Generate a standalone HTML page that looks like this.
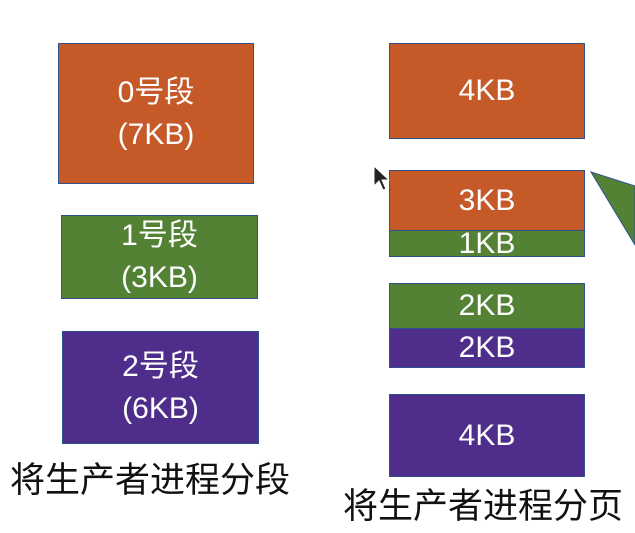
<!DOCTYPE html>
<html><head><meta charset="utf-8"><style>
body{margin:0;width:635px;height:533px;background:#fff;position:relative;overflow:hidden;font-family:"Liberation Sans","Noto Sans CJK SC",sans-serif}
.b{position:absolute;box-sizing:border-box;border:1px solid #2f528f;color:#fff;display:flex;align-items:center;justify-content:center;text-align:center;font-size:30px;line-height:42px}
.o{background:#c55a28}.g{background:#548235}.p{background:#4f2d8a}
.t{position:absolute;font-size:35px;color:#111;white-space:nowrap}
</style></head><body>
<div class="b o" style="left:58px;top:43px;width:196px;height:141px">0号段<br>(7KB)</div>
<div class="b g" style="left:61px;top:215px;width:197px;height:84px">1号段<br>(3KB)</div>
<div class="b p" style="left:62px;top:331px;width:197px;height:113px">2号段<br>(6KB)</div>
<div class="t" style="left:10px;top:452px">将生产者进程分段</div>
<div class="b o" style="left:389px;top:43px;width:196px;height:96px">4KB</div>
<div class="b o" style="left:389px;top:170px;width:196px;height:61px">3KB</div>
<div class="b g" style="left:389px;top:230px;width:196px;height:27px">1KB</div>
<div class="b g" style="left:389px;top:283px;width:196px;height:46px">2KB</div>
<div class="b p" style="left:389px;top:328px;width:196px;height:40px">2KB</div>
<div class="b p" style="left:389px;top:394px;width:196px;height:83px">4KB</div>
<div class="t" style="left:343px;top:478px">将生产者进程分页</div>
<svg style="position:absolute;left:0;top:0" width="635" height="533">
<polygon points="591,172 635,186 635,245" fill="#548235" stroke="#2f528f" stroke-width="1"/>
<polygon points="374,166 374,186 379,181 383,190 386,189 382,180 389,180" fill="#222" stroke="#fff" stroke-width="1"/>
</svg>
</body></html>
